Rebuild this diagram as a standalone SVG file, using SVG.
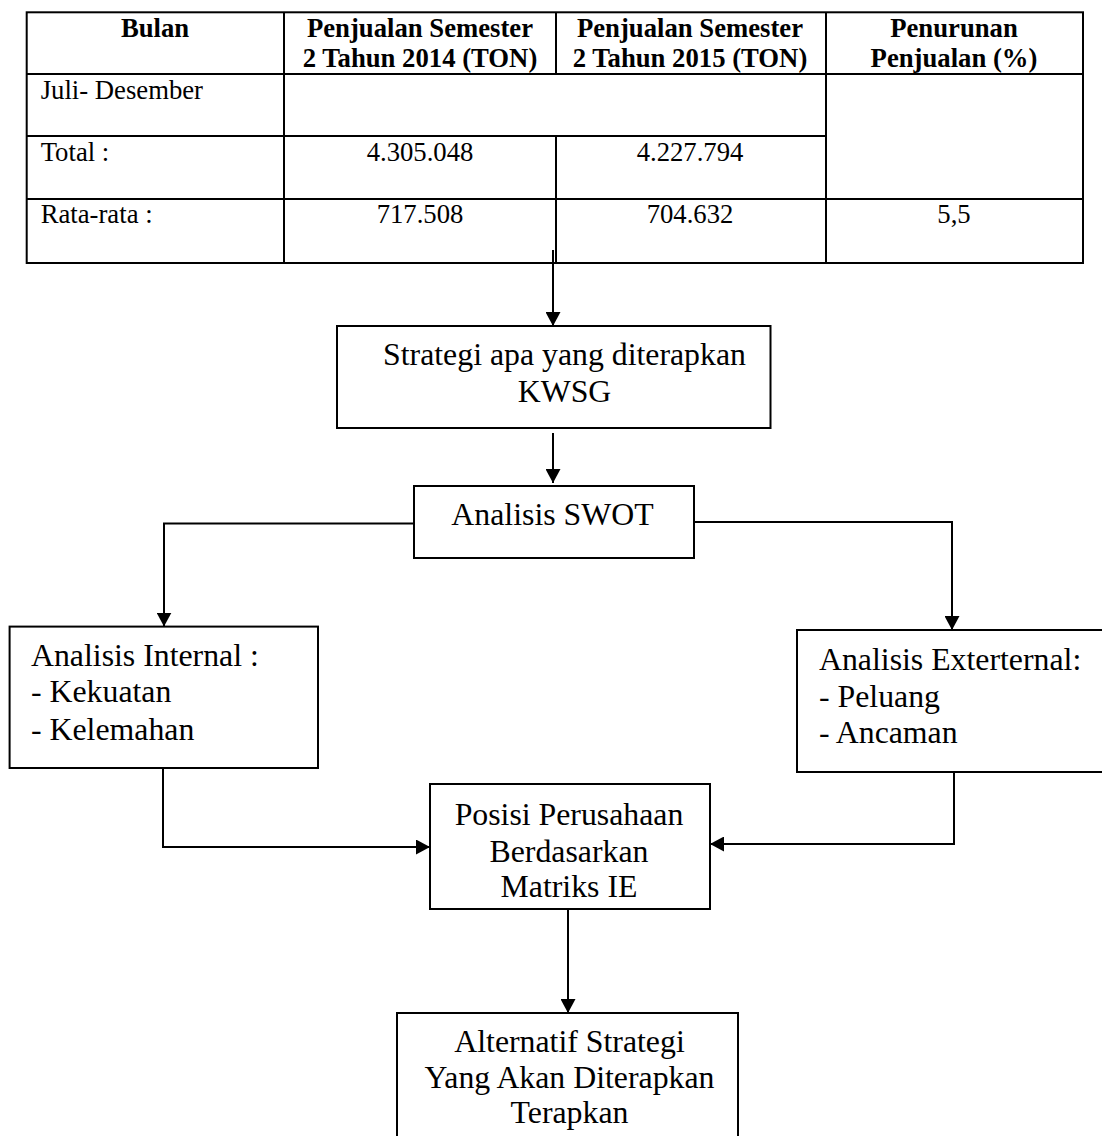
<svg xmlns="http://www.w3.org/2000/svg" width="1102" height="1136" viewBox="0 0 1102 1136">
<style>
.ln{stroke:#000;stroke-width:2;fill:none}
.box{stroke:#000;stroke-width:2;fill:#fff}
.th{font-family:"Liberation Serif","Times New Roman",serif;font-size:26.7px;font-weight:bold;fill:#000}
.td{font-family:"Liberation Serif","Times New Roman",serif;font-size:26.7px;fill:#000}
.t{font-family:"Liberation Serif","Times New Roman",serif;font-size:31.8px;fill:#000}
.c{text-anchor:middle}
</style>
<defs>
<marker id="ah" viewBox="0 0 14 15" refX="14" refY="7.5" markerWidth="14" markerHeight="15" markerUnits="userSpaceOnUse" orient="auto">
<path d="M0,0 L14,7.5 L0,15 z" fill="#000"/>
</marker>
</defs>
<rect width="1102" height="1136" fill="#fff"/>
<g id="table">
<rect class="ln" x="26.7" y="12.3" width="1056.3" height="250.7"/>
<line class="ln" x1="284" y1="12.3" x2="284" y2="263"/>
<line class="ln" x1="556" y1="12.3" x2="556" y2="74"/>
<line class="ln" x1="556" y1="136" x2="556" y2="263"/>
<line class="ln" x1="826" y1="12.3" x2="826" y2="263"/>
<line class="ln" x1="26.7" y1="74" x2="1083" y2="74"/>
<line class="ln" x1="26.7" y1="136" x2="826" y2="136"/>
<line class="ln" x1="26.7" y1="199" x2="1083" y2="199"/>
<text class="th c" x="155" y="37">Bulan</text>
<text class="th c" x="420" y="37">Penjualan Semester</text>
<text class="th c" x="420" y="67">2 Tahun 2014 (TON)</text>
<text class="th c" x="690" y="37">Penjualan Semester</text>
<text class="th c" x="690" y="67">2 Tahun 2015 (TON)</text>
<text class="th c" x="954" y="37">Penurunan</text>
<text class="th c" x="954" y="67">Penjualan (%)</text>
<text class="td" x="40.7" y="99">Juli- Desember</text>
<text class="td" x="40.7" y="161">Total :</text>
<text class="td c" x="420" y="161">4.305.048</text>
<text class="td c" x="690" y="161">4.227.794</text>
<text class="td" x="40.7" y="223">Rata-rata :</text>
<text class="td c" x="420" y="223">717.508</text>
<text class="td c" x="690" y="223">704.632</text>
<text class="td c" x="954" y="223">5,5</text>
</g>
<g id="connectors">
<path class="ln" d="M553,250 V326" marker-end="url(#ah)"/>
<path class="ln" d="M553,433 V483" marker-end="url(#ah)"/>
<path class="ln" d="M414,523.5 H164 V626.6" marker-end="url(#ah)"/>
<path class="ln" d="M694,522 H952 V630" marker-end="url(#ah)"/>
<path class="ln" d="M163,768 V847 H430" marker-end="url(#ah)"/>
<path class="ln" d="M954,772 V844 H710" marker-end="url(#ah)"/>
<path class="ln" d="M568,909 V1013" marker-end="url(#ah)"/>
</g>
<g id="strategi">
<rect class="box" x="337" y="326" width="433.5" height="102"/>
<text class="t c" x="564.5" y="365">Strategi apa yang diterapkan</text>
<text class="t c" x="564.5" y="401.7">KWSG</text>
</g>
<g id="swot">
<rect class="box" x="414" y="486" width="280" height="72"/>
<text class="t c" x="552.5" y="525">Analisis SWOT</text>
</g>
<g id="internal">
<rect class="box" x="9.6" y="626.6" width="308.4" height="141.4"/>
<text class="t" x="31" y="665.5">Analisis Internal :</text>
<text class="t" x="31" y="702">- Kekuatan</text>
<text class="t" x="31" y="740">- Kelemahan</text>
</g>
<g id="external">
<rect class="box" x="797" y="630" width="310" height="142"/>
<text class="t" x="819" y="670">Analisis Exterternal:</text>
<text class="t" x="819" y="707">- Peluang</text>
<text class="t" x="819" y="743">- Ancaman</text>
</g>
<g id="posisi">
<rect class="box" x="430" y="784" width="280" height="125"/>
<text class="t c" x="569" y="825">Posisi Perusahaan</text>
<text class="t c" x="569" y="862">Berdasarkan</text>
<text class="t c" x="569" y="897">Matriks IE</text>
</g>
<g id="alternatif">
<rect class="box" x="397" y="1013" width="341" height="130"/>
<text class="t c" x="569.5" y="1052">Alternatif Strategi</text>
<text class="t c" x="569.5" y="1088">Yang Akan Diterapkan</text>
<text class="t c" x="569.5" y="1123">Terapkan</text>
</g>
</svg>
